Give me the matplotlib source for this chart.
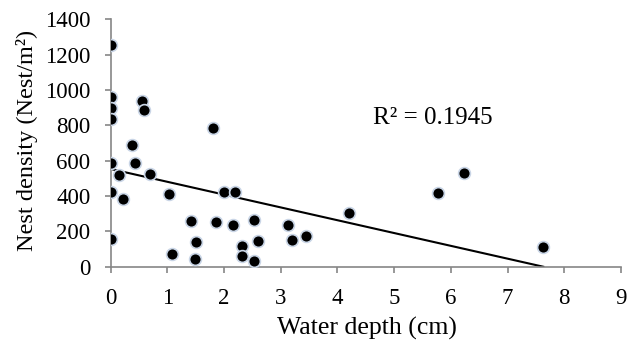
import numpy as np
import matplotlib.pyplot as plt

# water depth (cm) and nest density (nest/m2)
depth = [0, 0, 0, 0, 0.56, 0.59, 1.80, 0.37, 0, 0.43, 0.15, 0.69,
         0, 0.22, 1.03, 1.99, 2.20, 1.41, 1.86, 2.15, 0, 1.50, 1.08, 1.49,
         2.31, 2.31, 2.53, 2.60, 2.53, 3.13, 3.20, 3.44, 4.20, 5.78, 6.23, 7.63]
density = [1255, 963, 897, 835, 935, 888, 784, 688, 589, 589, 520, 525,
           423, 384, 410, 423, 423, 259, 255, 236, 155, 142, 72, 44,
           117, 61, 265, 147, 34, 236, 151, 174, 304, 416, 533, 113]

# Excel linear trendline
slope = -72.5
intercept = 553
r2_text = 'R\u00b2 = 0.1945'

plt.rcParams['font.family'] = ['Liberation Serif', 'DejaVu Serif']

fig = plt.figure(figsize=(6.39, 3.48), dpi=100)
ax = fig.add_axes([0.1732, 0.2336, 0.7986, 0.7109])

ax.scatter(depth, density, s=72, c='black', edgecolors='#c9d5e6',
           linewidths=1.2, zorder=3)

xs = np.array([min(depth), max(depth)])
ax.plot(xs, intercept + slope * xs, color='black', lw=1.5, zorder=2)

ax.text(4.63, 843, r2_text, fontsize=18, va='center', ha='left')

ax.set_xlim(0, 9)
ax.set_ylim(0, 1400)
ax.set_xticks(range(0, 10))
ax.set_yticks(range(0, 1401, 200))

for side in ['top', 'right']:
    ax.spines[side].set_visible(False)
for side in ['left', 'bottom']:
    ax.spines[side].set_color('#868686')
    ax.spines[side].set_linewidth(1.2)
ax.tick_params(axis='both', direction='out', length=4.5, width=1.2,
               color='#868686', labelsize=16.5)
ax.tick_params(axis='x', pad=11)
ax.tick_params(axis='y', pad=10)

# axis titles
fig.text(366.5 / 639, 1 - 335 / 348, 'Water depth (cm)', fontsize=18.5,
         ha='center', va='baseline')
fig.text(27 / 639, 1 - 140 / 348, 'Nest density (Nest/m\u00b2)', fontsize=17.5,
         ha='center', va='center', rotation=90)

fig.savefig('out.png', dpi=100)
